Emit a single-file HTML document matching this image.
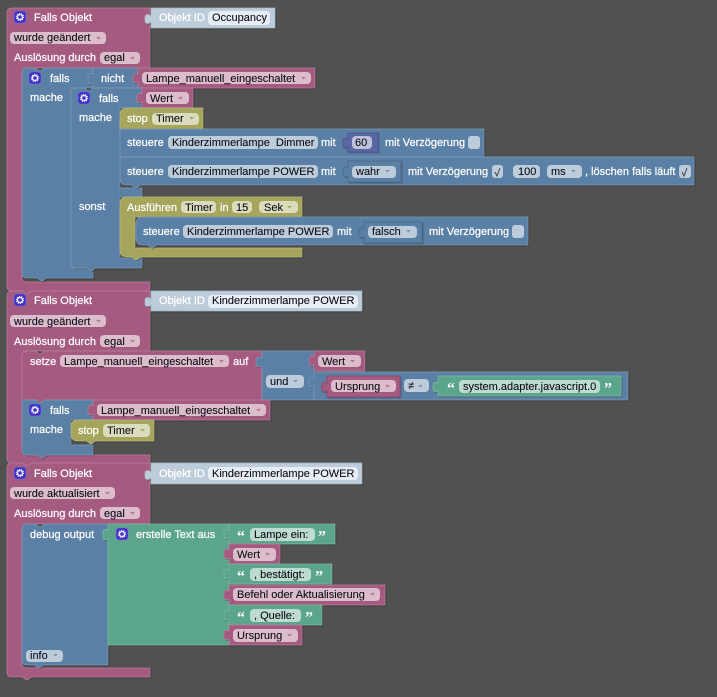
<!DOCTYPE html>
<html><head><meta charset="utf-8"><style>
html,body{margin:0;padding:0;background:#515151;width:717px;height:697px;overflow:hidden}
svg{display:block}
text{font-family:"Liberation Sans",Arial,sans-serif;font-size:11px}
.w{fill:#fff;stroke:#fff;stroke-width:.22}.k{fill:#0a0a14;stroke:#0a0a14;stroke-width:.08}
path.p,path.b,path.o,path.g,path.l,path.v{filter:drop-shadow(1px 1px 0 rgba(0,0,0,.22))}
.p{fill:#a55b80;stroke:#b77e9b;stroke-width:.7}
.b{fill:#5b80a5;stroke:#7d99b5;stroke-width:.7}
.o{fill:#a5a55b;stroke:#b7b77e;stroke-width:.7}
.g{fill:#5ba58c;stroke:#7db7a3;stroke-width:.7}
.l{fill:#bdccdb;stroke:#a8b7c6;stroke-width:.7}
.v{fill:#5b67a5;stroke:#4d578c;stroke-width:1}
path.d{stroke:#4d6d8c;stroke-width:1}
path.e{stroke:#8c4d6d;stroke-width:1}
.fp{fill:#dbbdcc}.fb{fill:#bdccdb}.fo{fill:#dbdbbd}.fg{fill:#bddbd1}.fl{fill:#e6edf4}.fv{fill:#bdc2db}
.q{font-family:"Liberation Serif",serif;font-size:16px;font-weight:bold;fill:#fff}
.ap{fill:#b5789a}.ab{fill:#7b96b5}.ao{fill:#a5a56b}
</style></head><body>
<svg width="717" height="697" viewBox="0 0 717 697" xmlns="http://www.w3.org/2000/svg">
<defs>
<g id="gear"><rect x="0" y="0" width="12" height="12" rx="3" fill="#3f2fc8" stroke="#7a70d0" stroke-width=".6"/><circle cx="6" cy="6" r="2.6" fill="none" stroke="#e8e8f5" stroke-width="1.6"/><circle cx="6" cy="6" r="3.8" fill="none" stroke="#e8e8f5" stroke-width=".8" stroke-dasharray="1.2 1.2"/></g>
</defs>

<!-- Block 1 -->
<path class="p" d="M7 13Q7 8 12 8H150V68H27Q22 68 22 73V277Q22 282 27 282H150V291H32c-2 0-3 3-5 3s-3-3-5-3H12Q7 291 7 286Z"/>
<path class="l" d="M151 8H275V28H151V22c-2 2-6 2-6-1v-4c0-3 4-3 6-1Z"/>
<use href="#gear" x="14" y="11"/>
<text class="w" x="34" y="21">Falls Objekt</text>
<text class="w" x="159" y="21">Objekt ID</text>
<rect class="fl" x="208" y="11" width="62" height="14" rx="4"/><text class="k" x="212" y="21">Occupancy</text>
<rect class="fp" x="10" y="32" width="96" height="12" rx="4"/><text class="k" x="14" y="41">wurde geändert</text><polygon class="ap" points="96,37 101,37 98.5,39.5"/>
<text class="w" x="14" y="61">Auslösung durch</text>
<rect class="fp" x="100" y="52" width="40" height="12" rx="4"/><text class="k" x="104" y="61">egal</text><polygon class="ap" points="130,57 135,57 132.5,59.5"/>

<path class="b" d="M22 73Q22 68 27 68h8c2 0 3 3 5 3s3-3 5-3H93V88H71V268H93V278H47c-2 0-3 3-5 3s-3-3-5-3H27Q22 278 22 273Z"/>
<path class="b" d="M93 68H138V88H93V83c-3 1-5 1-5-2v-5c0-3 2-3 5-2Z"/>
<use href="#gear" x="29" y="72"/>
<text class="w" x="50" y="82">falls</text>
<text class="w" x="30" y="101">mache</text>
<text class="w" x="101" y="82">nicht</text>
<path class="p" d="M138 68H315V88H138V82c-3 1-5 1-5-2v-4c0-3 2-3 5-2Z"/>
<rect class="fp" x="142" y="72" width="169" height="12" rx="4"/><text class="k" x="146" y="82">Lampe_manuell_eingeschaltet</text><polygon class="ap" points="301,77 306,77 303.5,79.5"/>

<path class="b" d="M71 93Q71 88 76 88h8c2 0 3 3 5 3s3-3 5-3H142V108H120V188H142V197H120V258H142V268H96c-2 0-3 3-5 3s-3-3-5-3H76Q71 268 71 263Z"/>
<use href="#gear" x="78" y="92"/>
<text class="w" x="99" y="102">falls</text>
<text class="w" x="79" y="121">mache</text>
<text class="w" x="79" y="210">sonst</text>
<path class="p" d="M142 88H193V108H142V102c-3 1-5 1-5-2v-4c0-3 2-3 5-2Z"/>
<rect class="fp" x="146" y="92" width="43" height="12" rx="4"/><text class="k" x="150" y="102">Wert</text><polygon class="ap" points="178,97 183,97 180.5,99.5"/>

<path class="o" d="M120 115Q120 108 127 108H203V129H120Z"/>
<text class="w" x="127" y="122">stop</text>
<rect class="fo" x="152" y="113" width="47" height="12" rx="4"/><text class="k" x="156" y="122">Timer</text><polygon class="ao" points="189,117 194,117 191.5,119.5"/>

<path class="b" d="M120 129H484V157H120Z"/>
<text class="w" x="127" y="146">steuere</text>
<rect class="fb" x="168" y="136" width="150" height="13" rx="4"/><text class="k" x="172" y="146">Kinderzimmerlampe&#160; Dimmer</text>
<text class="w" x="321" y="146">mit</text>
<path class="v" d="M348 133H378V152H348V147c-3 1-5 1-5-2v-4c0-3 2-3 5-2Z"/>
<rect class="fv" x="352" y="136" width="20" height="13" rx="4"/><text class="k" x="355" y="146">60</text>
<text class="w" x="385" y="146">mit Verzögerung</text>
<rect class="fb" x="468" y="136" width="12" height="13" rx="3"/>

<path class="b" d="M120 157H694V185H141c-2 0-3 3-5 3s-3-3-5-3H127Q120 185 120 178Z"/>
<text class="w" x="127" y="175">steuere</text>
<rect class="fb" x="168" y="165" width="150" height="13" rx="4"/><text class="k" x="172" y="175">Kinderzimmerlampe POWER</text>
<text class="w" x="321" y="175">mit</text>
<path class="b d" d="M348 161H401V182H348V176c-3 1-5 1-5-2v-4c0-3 2-3 5-2Z"/>
<rect class="fb" x="352" y="166" width="44" height="12" rx="4"/><text class="k" x="356" y="175">wahr</text><polygon class="ab" points="385,170 390,170 387.5,172.5"/>
<text class="w" x="408" y="175">mit Verzögerung</text>
<rect class="fb" x="492" y="165" width="11" height="13" rx="3"/><path d="M495 172l2 4 3-8" fill="none" stroke="#444" stroke-width="1"/>
<rect class="fb" x="513" y="165" width="27" height="13" rx="4"/><text class="k" x="518" y="175">100</text>
<rect class="fb" x="547" y="165" width="35" height="13" rx="4"/><text class="k" x="551" y="175">ms</text><polygon class="ab" points="571,170 576,170 573.5,172.5"/>
<text class="w" x="585" y="175">, löschen falls läuft</text>
<rect class="fb" x="679" y="165" width="12" height="13" rx="3"/><path d="M682 172l2 4 3-8" fill="none" stroke="#444" stroke-width="1"/>

<path class="o" d="M120 204Q120 197 127 197H302V217H135V248H302V257H141c-2 0-3 3-5 3s-3-3-5-3H127Q120 257 120 250Z"/>
<text class="w" x="127" y="211">Ausführen</text>
<rect class="fo" x="181" y="201" width="35" height="12" rx="4"/><text class="k" x="185" y="211">Timer</text>
<text class="w" x="220" y="211">in</text>
<rect class="fo" x="232" y="201" width="20" height="12" rx="4"/><text class="k" x="236" y="211">15</text>
<rect class="fo" x="259" y="201" width="39" height="12" rx="4"/><text class="k" x="264" y="211">Sek</text><polygon class="ao" points="287,206 292,206 289.5,208.5"/>

<path class="b" d="M136 224Q136 217 143 217H528V245H157c-2 0-3 3-5 3s-3-3-5-3H143Q136 245 136 238Z"/>
<text class="w" x="143" y="235">steuere</text>
<rect class="fb" x="183" y="225" width="150" height="13" rx="4"/><text class="k" x="187" y="235">Kinderzimmerlampe POWER</text>
<text class="w" x="337" y="235">mit</text>
<path class="b d" d="M364 222H422V243H364V237c-3 1-5 1-5-2v-4c0-3 2-3 5-2Z"/>
<rect class="fb" x="368" y="226" width="49" height="12" rx="4"/><text class="k" x="372" y="235">falsch</text><polygon class="ab" points="406,230 411,230 408.5,232.5"/>
<text class="w" x="429" y="235">mit Verzögerung</text>
<rect class="fb" x="512" y="225" width="12" height="13" rx="3"/>

<!-- Block 2 -->
<path class="p" d="M7 296Q7 291 12 291h10c2 0 3 3 5 3s3-3 5-3H150V351H27Q22 351 22 356V450Q22 455 27 455H150V463H32c-2 0-3 3-5 3s-3-3-5-3H12Q7 463 7 458Z"/>
<path class="l" d="M151 291H362V311H151V305c-2 2-6 2-6-1v-4c0-3 4-3 6-1Z"/>
<use href="#gear" x="14" y="294"/>
<text class="w" x="34" y="304">Falls Objekt</text>
<text class="w" x="159" y="304">Objekt ID</text>
<rect class="fl" x="208" y="295" width="150" height="13" rx="4"/><text class="k" x="212" y="304">Kinderzimmerlampe POWER</text>
<rect class="fp" x="10" y="315" width="96" height="12" rx="4"/><text class="k" x="14" y="325">wurde geändert</text><polygon class="ap" points="96,320 101,320 98.5,322.5"/>
<text class="w" x="14" y="345">Auslösung durch</text>
<rect class="fp" x="100" y="335" width="40" height="12" rx="4"/><text class="k" x="104" y="345">egal</text><polygon class="ap" points="130,340 135,340 132.5,342.5"/>

<path class="p" d="M22 356Q22 351 27 351h8c2 0 3 3 5 3s3-3 5-3H262V400H47c-2 0-3 3-5 3s-3-3-5-3H22Z"/>
<text class="w" x="30" y="365">setze</text>
<rect class="fp" x="60" y="355" width="169" height="12" rx="4"/><text class="k" x="64" y="365">Lampe_manuell_eingeschaltet</text><polygon class="ap" points="219,360 224,360 221.5,362.5"/>
<text class="w" x="233" y="365">auf</text>
<path class="b" d="M262 351H314V400H262V366c-3 1-6 1-6-2v-4c0-3 3-3 6-2Z"/>
<rect class="fb" x="266" y="375" width="38" height="13" rx="4"/><text class="k" x="270" y="385">und</text><polygon class="ab" points="293,380 298,380 295.5,382.5"/>
<path class="p" d="M314 351H365V371H314V365c-3 1-5 1-5-2v-4c0-3 2-3 5-2Z"/>
<rect class="fp" x="318" y="355" width="43" height="12" rx="4"/><text class="k" x="322" y="365">Wert</text><polygon class="ap" points="350,360 355,360 352.5,362.5"/>
<path class="b" d="M314 372H628V400H314V386c-3 1-5 1-5-2v-4c0-3 2-3 5-2Z"/>
<path class="p e" d="M327 376H400V397H327V391c-3 1-5 1-5-2v-4c0-3 2-3 5-2Z"/>
<rect class="fp" x="331" y="380" width="65" height="12" rx="4"/><text class="k" x="335" y="390">Ursprung</text><polygon class="ap" points="385,385 390,385 387.5,387.5"/>
<rect class="fb" x="404" y="379" width="25" height="13" rx="4"/><text class="k" x="408" y="389">≠</text><polygon class="ab" points="418,385 423,385 420.5,387.5"/>
<path class="g" d="M438 376H621V396H438V391c-3 1-5 1-5-2v-4c0-3 2-3 5-2Z"/>
<text class="q" x="447" y="393.5">“</text>
<rect class="fg" x="459" y="380" width="141" height="13" rx="4"/><text class="k" x="463" y="390">system.adapter.javascript.0</text>
<text class="q" x="604" y="393.5">”</text>

<path class="b" d="M22 400h13c2 0 3 3 5 3s3-3 5-3H93V420H71V445H93V455H47c-2 0-3 3-5 3s-3-3-5-3H27Q22 455 22 450Z"/>
<use href="#gear" x="29" y="404"/>
<text class="w" x="50" y="414">falls</text>
<text class="w" x="30" y="433">mache</text>
<path class="p" d="M93 400H270V420H93V414c-3 1-5 1-5-2v-4c0-3 2-3 5-2Z"/>
<rect class="fp" x="97" y="404" width="169" height="12" rx="4"/><text class="k" x="101" y="414">Lampe_manuell_eingeschaltet</text><polygon class="ap" points="256,409 261,409 258.5,411.5"/>
<path class="o" d="M71 427Q71 420 78 420H154V441H96c-2 0-3 3-5 3s-3-3-5-3H78Q71 441 71 434Z"/>
<text class="w" x="78" y="434">stop</text>
<rect class="fo" x="103" y="424" width="47" height="13" rx="4"/><text class="k" x="107" y="434">Timer</text><polygon class="ao" points="140,429 145,429 142.5,431.5"/>

<!-- Block 3 -->
<path class="p" d="M7 468Q7 463 12 463h10c2 0 3 3 5 3s3-3 5-3H150V524H27Q22 524 22 529V663Q22 668 27 668H150V677H32c-2 0-3 3-5 3s-3-3-5-3H12Q7 677 7 672Z"/>
<path class="l" d="M151 463H362V484H151V478c-2 2-6 2-6-1v-4c0-3 4-3 6-1Z"/>
<use href="#gear" x="14" y="467"/>
<text class="w" x="34" y="477">Falls Objekt</text>
<text class="w" x="159" y="477">Objekt ID</text>
<rect class="fl" x="208" y="467" width="150" height="13" rx="4"/><text class="k" x="212" y="477">Kinderzimmerlampe POWER</text>
<rect class="fp" x="10" y="487" width="105" height="12" rx="4"/><text class="k" x="14" y="497">wurde aktualisiert</text><polygon class="ap" points="105,492 110,492 107.5,494.5"/>
<text class="w" x="14" y="517">Auslösung durch</text>
<rect class="fp" x="100" y="507" width="40" height="12" rx="4"/><text class="k" x="104" y="517">egal</text><polygon class="ap" points="130,512 135,512 132.5,514.5"/>

<path class="b" d="M22 529Q22 524 27 524h8c2 0 3 3 5 3s3-3 5-3H108V665H44c-2 0-3 3-5 3s-3-3-5-3H27Q22 665 22 660Z"/>
<text class="w" x="30" y="538">debug output</text>
<rect class="fb" x="26" y="650" width="37" height="12" rx="4"/><text class="k" x="30" y="659">info</text><polygon class="ab" points="53,654 58,654 55.5,656.5"/>

<path class="g" d="M108 524H229V645H108V539c-3 1-5 1-5-2v-5c0-3 2-3 5-2Z"/>
<use href="#gear" x="116" y="528"/>
<text class="w" x="136" y="538">erstelle Text aus</text>

<path class="g" d="M229 524H335V544H229V538c-3 1-5 1-5-2v-4c0-3 2-3 5-2Z"/>
<text class="q" x="237" y="541.5">“</text>
<rect class="fg" x="250" y="528" width="65" height="13" rx="4"/><text class="k" x="254" y="538">Lampe ein:</text>
<text class="q" x="318" y="541.5">”</text>
<path class="p" d="M229 544H280V564H229V558c-3 1-5 1-5-2v-4c0-3 2-3 5-2Z"/>
<rect class="fp" x="233" y="548" width="43" height="13" rx="4"/><text class="k" x="237" y="558">Wert</text><polygon class="ap" points="265,553 270,553 267.5,555.5"/>
<path class="g" d="M229 564H332V584H229V578c-3 1-5 1-5-2v-4c0-3 2-3 5-2Z"/>
<text class="q" x="237" y="581.5">“</text>
<rect class="fg" x="250" y="568" width="61" height="13" rx="4"/><text class="k" x="254" y="578">, bestätigt:</text>
<text class="q" x="315" y="581.5">”</text>
<path class="p" d="M229 585H385V605H229V599c-3 1-5 1-5-2v-4c0-3 2-3 5-2Z"/>
<rect class="fp" x="233" y="588" width="147" height="13" rx="4"/><text class="k" x="237" y="598">Befehl oder Aktualisierung</text><polygon class="ap" points="370,593 375,593 372.5,595.5"/>
<path class="g" d="M229 605H322V625H229V619c-3 1-5 1-5-2v-4c0-3 2-3 5-2Z"/>
<text class="q" x="237" y="622.5">“</text>
<rect class="fg" x="250" y="609" width="51" height="13" rx="4"/><text class="k" x="254" y="619">, Quelle:</text>
<text class="q" x="305" y="622.5">”</text>
<path class="p" d="M229 625H302V645H229V639c-3 1-5 1-5-2v-4c0-3 2-3 5-2Z"/>
<rect class="fp" x="233" y="629" width="65" height="13" rx="4"/><text class="k" x="237" y="639">Ursprung</text><polygon class="ap" points="287,634 292,634 289.5,636.5"/>
</svg>
</body></html>
